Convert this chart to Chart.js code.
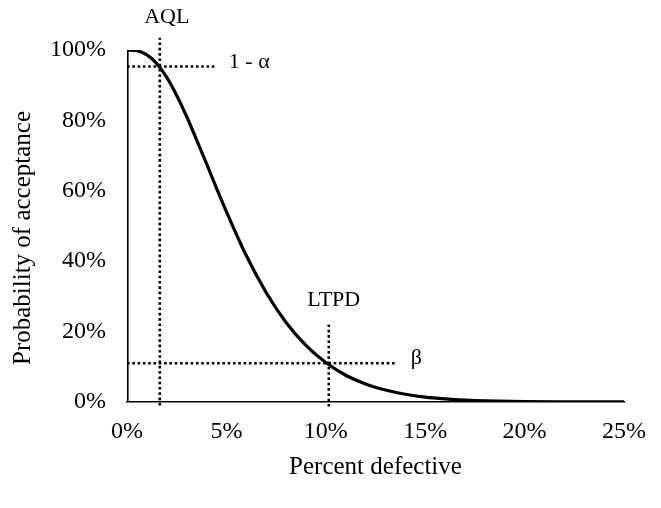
<!DOCTYPE html>
<html>
<head>
<meta charset="utf-8">
<script src="https://cdn.jsdelivr.net/npm/chart.js@4/dist/chart.umd.min.js"></script>
<style>
  html, body { margin: 0; padding: 0; background: #fff; }
  #wrap { width: 661px; height: 508px; }
</style>
</head>
<body>
<div id="wrap"><canvas id="grafico"></canvas></div>
<script>
// fraccion defectuosa (x) y probabilidad de aceptacion (y)
const defectivos = [0, 0.005, 0.01, 0.015, 0.02, 0.025, 0.03, 0.035, 0.04, 0.045, 0.05, 0.06, 0.07, 0.08, 0.09, 0.10,
                    0.11, 0.12, 0.13, 0.14, 0.15, 0.16, 0.17, 0.18, 0.20, 0.22, 0.25];
const aceptacion = [1.0, 0.998, 0.986, 0.961, 0.922, 0.871, 0.811, 0.745, 0.677, 0.608, 0.541, 0.416, 0.311, 0.226, 0.161, 0.112,
                    0.076, 0.051, 0.034, 0.022, 0.014, 0.009, 0.0056, 0.0035, 0.0013, 0.0005, 0.0001];

// borde izquierdo de la curva
const bordeX = [0, 0];
const bordeY = [0, 1];

// lineas de referencia punteadas
const aqlX = [0.0165, 0.0165];
const aqlY = [-0.01, 1.035];
const alfaX = [0, 0.0448];
const alfaY = [0.953, 0.953];
const ltpdX = [0.1015, 0.1015];
const ltpdY = [-0.013, 0.223];
const betaX = [0, 0.1357];
const betaY = [0.11, 0.11];

// etiquetas
const etiquetas = ['AQL', '1 - \u03b1', 'LTPD', '\u03b2'];
const etiquetasX = [0.020, 0.0615, 0.104, 0.1455];
const etiquetasY = [1.094, 0.966, 0.29, 0.125];

const xTicks = [0, 0.05, 0.10, 0.15, 0.20, 0.25];
const yTicks = [0, 0.2, 0.4, 0.6, 0.8, 1.0];

const tituloX = 'Percent defective';
const tituloY = 'Probability of acceptance';

const fuente = "'Liberation Serif', 'Times New Roman', serif";
const zip = (xs, ys) => xs.map((x, i) => ({ x: x, y: ys[i] }));

const punteada = (xs, ys) => ({
    data: zip(xs, ys),
    showLine: true,
    borderColor: '#000',
    borderWidth: 2.6,
    borderDash: [2.6, 2.7],
    pointRadius: 0,
    tension: 0,
    clip: false
});

const textos = {
    id: 'textos',
    afterDatasetsDraw(chart) {
        const ctx = chart.ctx;
        const sx = chart.scales.x, sy = chart.scales.y;
        ctx.save();
        ctx.fillStyle = '#000';
        ctx.font = '22px ' + fuente;
        ctx.textAlign = 'center';
        ctx.textBaseline = 'middle';
        etiquetas.forEach((t, i) => {
            ctx.fillText(t, sx.getPixelForValue(etiquetasX[i]), sy.getPixelForValue(etiquetasY[i]));
        });
        // titulo del eje Y (un poco por debajo del centro, como en el original)
        const area = chart.chartArea;
        ctx.font = '25px ' + fuente;
        ctx.translate(23, (area.top + area.bottom) / 2 + 12);
        ctx.rotate(-Math.PI / 2);
        ctx.fillText(tituloY, 0, 0);
        ctx.restore();
    }
};

new Chart(document.getElementById('grafico'), {
    type: 'scatter',
    data: {
        datasets: [
            {
                data: zip(defectivos, aceptacion),
                showLine: true,
                borderColor: '#000',
                borderWidth: 3.2,
                pointRadius: 0,
                cubicInterpolationMode: 'monotone'
            },
            {
                data: zip(bordeX, bordeY),
                showLine: true,
                borderColor: '#000',
                borderWidth: 3.2,
                pointRadius: 0
            },
            punteada(aqlX, aqlY),
            punteada(alfaX, alfaY),
            punteada(ltpdX, ltpdY),
            punteada(betaX, betaY)
        ]
    },
    options: {
        responsive: true,
        maintainAspectRatio: false,
        animation: false,
        layout: { padding: { top: 50, right: 34, left: 0, bottom: 0 } },
        plugins: { legend: { display: false }, tooltip: { enabled: false } },
        scales: {
            x: {
                type: 'linear',
                min: 0,
                max: 0.25,
                afterBuildTicks: s => { s.ticks = xTicks.map(v => ({ value: v })); },
                afterFit: s => { s.height = 106; },
                grid: { display: false, drawTicks: false },
                border: { display: true, color: '#000', width: 1.6 },
                ticks: {
                    color: '#000',
                    padding: 15,
                    font: { family: fuente, size: 24 },
                    maxRotation: 0,
                    callback: v => Math.round(v * 100) + '%'
                },
                title: {
                    display: true,
                    text: tituloX,
                    color: '#000',
                    font: { family: fuente, size: 25 },
                    padding: { top: 0, bottom: 26 }
                }
            },
            y: {
                type: 'linear',
                min: 0,
                max: 1,
                afterBuildTicks: s => { s.ticks = yTicks.map(v => ({ value: v })); },
                afterFit: s => { s.width = 127; },
                grid: { display: false, drawTicks: false },
                border: { display: false },
                ticks: {
                    color: '#000',
                    padding: 21,
                    font: { family: fuente, size: 24 },
                    callback: v => Math.round(v * 100) + '%'
                },
                title: { display: false }
            }
        }
    },
    plugins: [textos]
});
</script>
</body>
</html>
